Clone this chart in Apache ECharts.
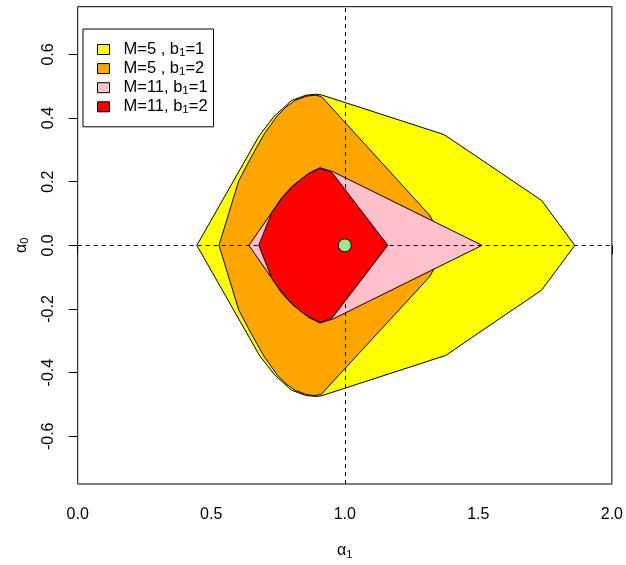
<!DOCTYPE html>
<html>
<head>
<meta charset="utf-8">
<script src="https://cdn.jsdelivr.net/npm/echarts@6/dist/echarts.min.js"></script>
<style>html,body{margin:0;padding:0;background:#fff}#c{width:626px;height:565px}</style>
</head>
<body>
<div id="c"></div>
<script>
// ---- data ----
const seriesNames = ['M=5 , b1=1', 'M=5 , b1=2', 'M=11, b1=1', 'M=11, b1=2'];
const legendMain = ['M=5 , b', 'M=5 , b', 'M=11, b', 'M=11, b'];
const legendSub = ['1', '1', '1', '1'];
const legendTail = ['=1', '=2', '=1', '=2'];
const fillColors = ['#FFFF00', '#FFA500', '#FFC0CB', '#FF0000'];

// region outlines: [alpha1, alpha0]
const regionM5b1 = [
  [0.446, 0.000], [0.680, 0.345], [0.735, 0.405], [0.800, 0.455], [0.855, 0.472],
  [0.894, 0.475], [0.912, 0.473], [1.372, 0.348], [1.582, 0.229], [1.737, 0.141],
  [1.861, 0.000], [1.737, -0.141], [1.582, -0.229], [1.378, -0.346], [0.912, -0.473],
  [0.894, -0.475], [0.855, -0.472], [0.800, -0.455], [0.735, -0.405], [0.680, -0.345]
];
const regionM5b2 = [
  [0.529, 0.000], [0.603, 0.203], [0.640, 0.262], [0.670, 0.308], [0.700, 0.352],
  [0.746, 0.406], [0.780, 0.435], [0.815, 0.456], [0.857, 0.469], [0.888, 0.472],
  [0.912, 0.468], [1.316, 0.096], [1.385, 0.000], [1.316, -0.100], [0.912, -0.468],
  [0.888, -0.472], [0.857, -0.469], [0.815, -0.456], [0.780, -0.435], [0.746, -0.406],
  [0.700, -0.352], [0.670, -0.308], [0.640, -0.262], [0.603, -0.203]
];
const regionM11b1 = [
  [0.641, 0.000], [0.727, 0.104], [0.764, 0.150], [0.802, 0.185], [0.864, 0.226],
  [0.907, 0.244], [0.957, 0.231], [1.514, 0.000], [0.957, -0.231], [0.907, -0.244],
  [0.864, -0.226], [0.802, -0.185], [0.764, -0.150], [0.727, -0.104]
];
const regionM11b2 = [
  [0.678, 0.000], [0.727, 0.104], [0.764, 0.146], [0.802, 0.182], [0.835, 0.207],
  [0.864, 0.224], [0.907, 0.242], [0.952, 0.229], [1.161, 0.000], [0.952, -0.229],
  [0.907, -0.242], [0.864, -0.224], [0.835, -0.207], [0.802, -0.182], [0.764, -0.146],
  [0.727, -0.104]
];
const regions = [regionM5b1, regionM5b2, regionM11b1, regionM11b2];

const truePoint = [[1.0, 0.0]];
const refAlpha1 = 1.0;
const refAlpha0 = 0.0;

const xTicks = [0, 0.5, 1.0, 1.5, 2.0];
const yTicks = [-0.6, -0.4, -0.2, 0.0, 0.2, 0.4, 0.6];

// ---- chart ----
const FONT = 'Liberation Sans, Arial, Helvetica, sans-serif';
const chart = echarts.init(document.getElementById('c'), null, {renderer: 'canvas'});

const polySeries = regions.map((poly, i) => ({
  type: 'custom',
  name: seriesNames[i],
  z: 2 + i,
  silent: true,
  itemStyle: {color: fillColors[i], borderColor: '#000', borderWidth: 1},
  data: poly,
  renderItem: function (params, api) {
    if (params.dataIndex !== 0) return null;
    return {
      type: 'polygon',
      shape: {points: poly.map(p => api.coord(p))},
      style: {fill: fillColors[i], stroke: '#000', lineWidth: 1}
    };
  }
}));

const option = {
  animation: false,
  backgroundColor: '#fff',
  grid: {
    left: 77.7, right: 10.3, top: 6.7, bottom: 78.3,
    show: true, borderColor: '#000', borderWidth: 1, backgroundColor: 'transparent'
  },
  xAxis: {
    type: 'value', min: 0, max: 2, interval: 0.5,
    name: '{a|α}{s|1}', nameLocation: 'middle', nameGap: 58,
    nameTextStyle: {
      rich: {
        a: {fontSize: 16, fontFamily: FONT, color: '#000', lineHeight: 18},
        s: {fontSize: 11, fontFamily: FONT, color: '#000', lineHeight: 10, verticalAlign: 'bottom'}
      }
    },
    axisLine: {show: false},
    axisTick: {show: true, length: 9, lineStyle: {color: '#000', width: 1}, customValues: xTicks},
    axisLabel: {
      customValues: xTicks, showMinLabel: true, showMaxLabel: true,
      formatter: v => Number(v).toFixed(1), fontSize: 16, fontFamily: FONT, color: '#000', margin: 23
    },
    splitLine: {show: false}
  },
  yAxis: {
    type: 'value', min: -0.75, max: 0.75,
    name: '{a|α}{s|0}', nameLocation: 'middle', nameGap: 47, nameRotate: 90,
    nameTextStyle: {
      rich: {
        a: {fontSize: 16, fontFamily: FONT, color: '#000', lineHeight: 18},
        s: {fontSize: 11, fontFamily: FONT, color: '#000', lineHeight: 10, verticalAlign: 'bottom'}
      }
    },
    axisLine: {show: false},
    axisTick: {show: true, length: 9, lineStyle: {color: '#000', width: 1}, customValues: yTicks},
    axisLabel: {
      customValues: yTicks, rotate: 90,
      formatter: v => Number(v).toFixed(1), fontSize: 16, fontFamily: FONT, color: '#000', margin: 21
    },
    splitLine: {show: false}
  },
  legend: {
    orient: 'vertical', left: 83, top: 29,
    backgroundColor: '#fff', borderColor: '#000', borderWidth: 1, borderRadius: 0,
    padding: [12, 6, 11, 14],
    itemWidth: 12, itemHeight: 10, itemGap: 1.6,
    icon: 'rect',
    selectedMode: false,
    data: seriesNames.map((n, i) => ({
      name: n, icon: 'rect',
      itemStyle: {color: fillColors[i], borderColor: '#000', borderWidth: 1}
    })),
    formatter: function (n) {
      const i = seriesNames.indexOf(n);
      return '{t|' + legendMain[i] + '}{s|' + legendSub[i] + '}{t|' + legendTail[i] + '}';
    },
    textStyle: {
      padding: [0, 0, 0, 9],
      rich: {
        t: {fontSize: 16.5, fontFamily: FONT, color: '#000', lineHeight: 18},
        s: {fontSize: 11.5, fontFamily: FONT, color: '#000', lineHeight: 10, verticalAlign: 'bottom'}
      }
    }
  },
  series: polySeries.concat([
    {
      type: 'line', name: 'ref', z: 10, silent: true, data: [],
      markLine: {
        silent: true, symbol: 'none', animation: false,
        label: {show: false},
        lineStyle: {color: '#000', width: 1, type: [4, 4]},
        data: [{xAxis: refAlpha1}, {yAxis: refAlpha0}]
      }
    },
    {
      type: 'scatter', name: 'true', z: 11, silent: true,
      symbol: 'circle', symbolSize: 13,
      itemStyle: {color: '#90EE90', borderColor: '#000', borderWidth: 1, opacity: 1},
      data: truePoint
    }
  ])
};
chart.setOption(option);
</script>
</body>
</html>
